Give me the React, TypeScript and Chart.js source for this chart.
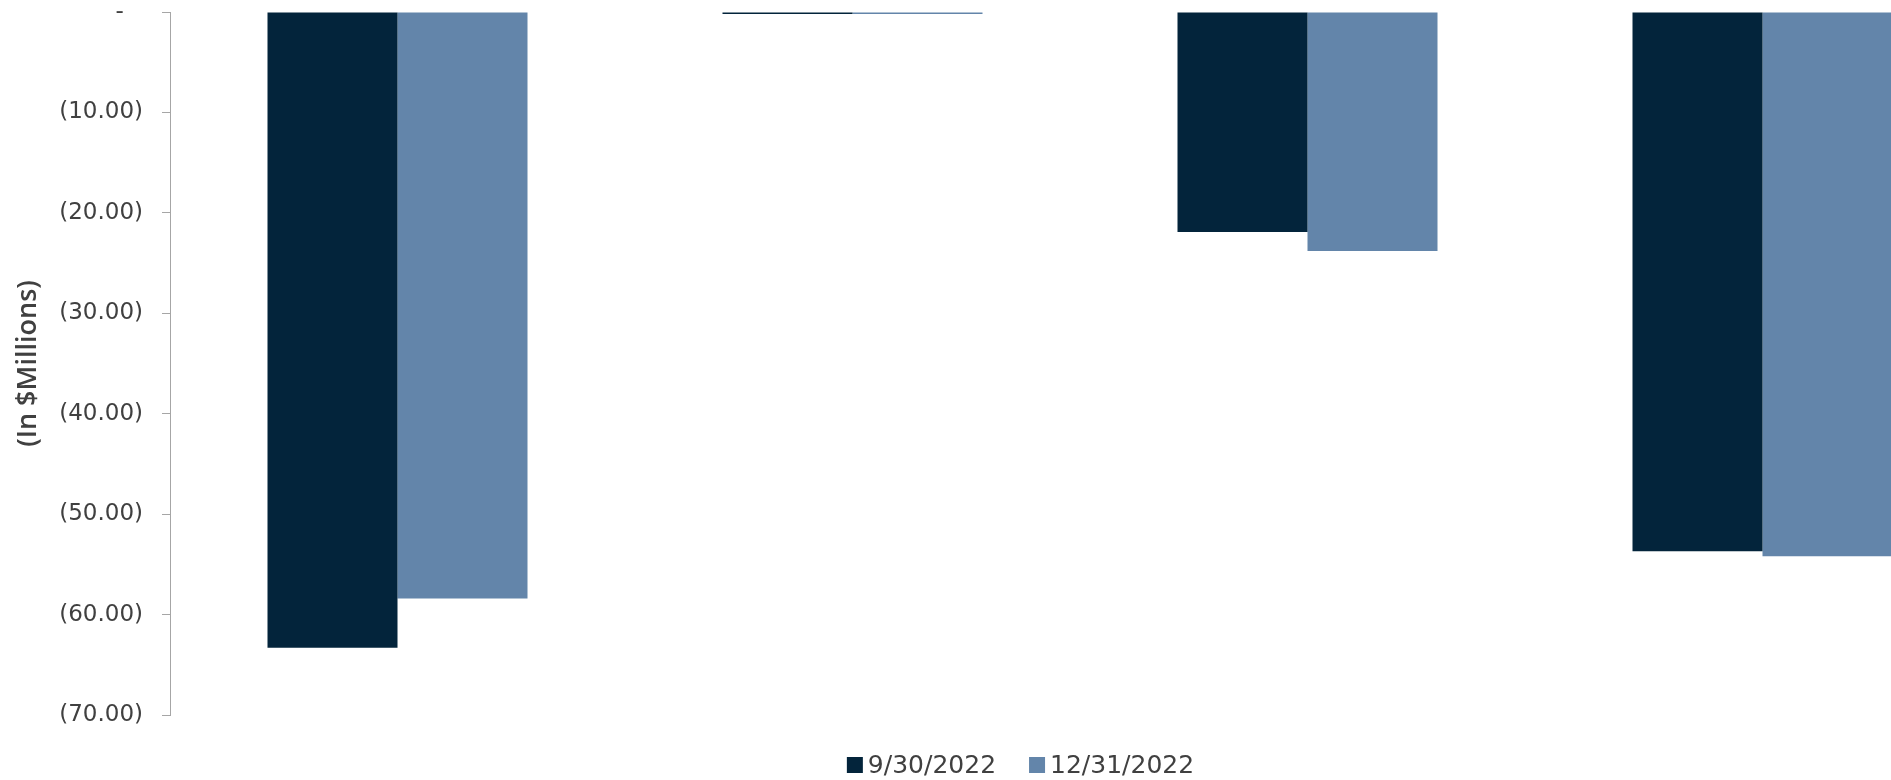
import React, { useEffect, useRef } from "react";
import { Chart, registerables } from "chart.js";

Chart.register(...registerables);

const categories = ["Category 1", "Category 2", "Category 3", "Category 4"];
const seriesLabels = ["9/30/2022", "12/31/2022"];
const sep2022 = [-63.3, -0.2, -21.9, -53.7];
const dec2022 = [-58.4, -0.2, -23.8, -54.2];
const yTicks = [0, -10, -20, -30, -40, -50, -60, -70];
const axisTitle = "(In $Millions)";

const DARK = "#03243b";
const LIGHT = "#6385aa";
const TEXT = "#404040";
const AXIS = "#a6a6a6";

function fmt(v: number): string {
  if (v === 0) return "-\u2007\u2009";
  const s = Math.abs(v).toFixed(2);
  return v < 0 ? `(${s})` : s;
}

const customLegend = {
  id: "customLegend",
  afterDraw(chart: any) {
    const ctx = chart.ctx;
    const font = "25px 'DejaVu Sans'";
    const box = 16;
    const gapText = 5;
    const gapItem = 33;
    const centerX = 1020.5;
    const centerY = 765;
    ctx.save();
    ctx.font = font;
    const items = chart.data.datasets.map((d: any) => ({
      text: String(d.label),
      color: d.backgroundColor,
      w: box + gapText + ctx.measureText(String(d.label)).width,
    }));
    const total =
      items.reduce((s: number, it: any) => s + it.w, 0) + gapItem * (items.length - 1);
    let x = centerX - total / 2;
    ctx.textBaseline = "middle";
    ctx.textAlign = "left";
    for (const it of items) {
      ctx.fillStyle = it.color;
      ctx.fillRect(x, centerY - box / 2, box, box);
      ctx.fillStyle = TEXT;
      ctx.fillText(it.text, x + box + gapText, centerY + 1);
      x += it.w + gapItem;
    }
    ctx.restore();
  },
};

export default function App() {
  const ref = useRef<HTMLCanvasElement | null>(null);

  useEffect(() => {
    if (!ref.current) return;
    const chart = new Chart(ref.current, {
      type: "bar",
      data: {
        labels: categories,
        datasets: [
          { label: seriesLabels[0], data: sep2022, backgroundColor: DARK, borderWidth: 0 },
          { label: seriesLabels[1], data: dec2022, backgroundColor: LIGHT, borderWidth: 0 },
        ],
      },
      plugins: [customLegend],
      options: {
        animation: false,
        responsive: false,
        maintainAspectRatio: false,
        devicePixelRatio: 1,
        layout: { padding: { left: 0, right: 0, top: 12, bottom: 65 } },
        datasets: { bar: { categoryPercentage: 260 / 455, barPercentage: 1 } },
        plugins: {
          tooltip: { enabled: false },
          legend: { display: false },
        },
        scales: {
          x: {
            display: false,
          },
          y: {
            min: -70,
            max: 0,
            afterBuildTicks: (scale: any) => {
              scale.ticks = yTicks.map((v) => ({ value: v }));
            },
            afterFit: (scale: any) => {
              scale.width = 170;
              scale.paddingTop = 0;
              scale.paddingBottom = 0;
            },
            grid: {
              drawOnChartArea: false,
              drawTicks: true,
              tickLength: 8,
              color: AXIS,
              lineWidth: 1,
            },
            border: { display: true, color: AXIS, width: 1 },
            ticks: {
              padding: 19,
              color: TEXT,
              font: { family: "'DejaVu Sans'", size: 23, lineHeight: 1 },
              callback: (v: any) => fmt(Number(v)),
            },
            title: {
              display: true,
              text: axisTitle,
              color: TEXT,
              font: { family: "'Open Sans'", size: 27, weight: "600", lineHeight: 1.2 },
              padding: { top: 12, bottom: 0 },
            },
          },
        },
      } as any,
    });
    return () => chart.destroy();
  }, []);

  return (
    <div
      style={{
        position: "fixed",
        left: 0,
        top: 0,
        width: 1891,
        height: 780,
        overflow: "hidden",
        background: "#ffffff",
      }}
    >
      <canvas ref={ref} width={1990} height={780} style={{ display: "block" }} />
    </div>
  );
}
